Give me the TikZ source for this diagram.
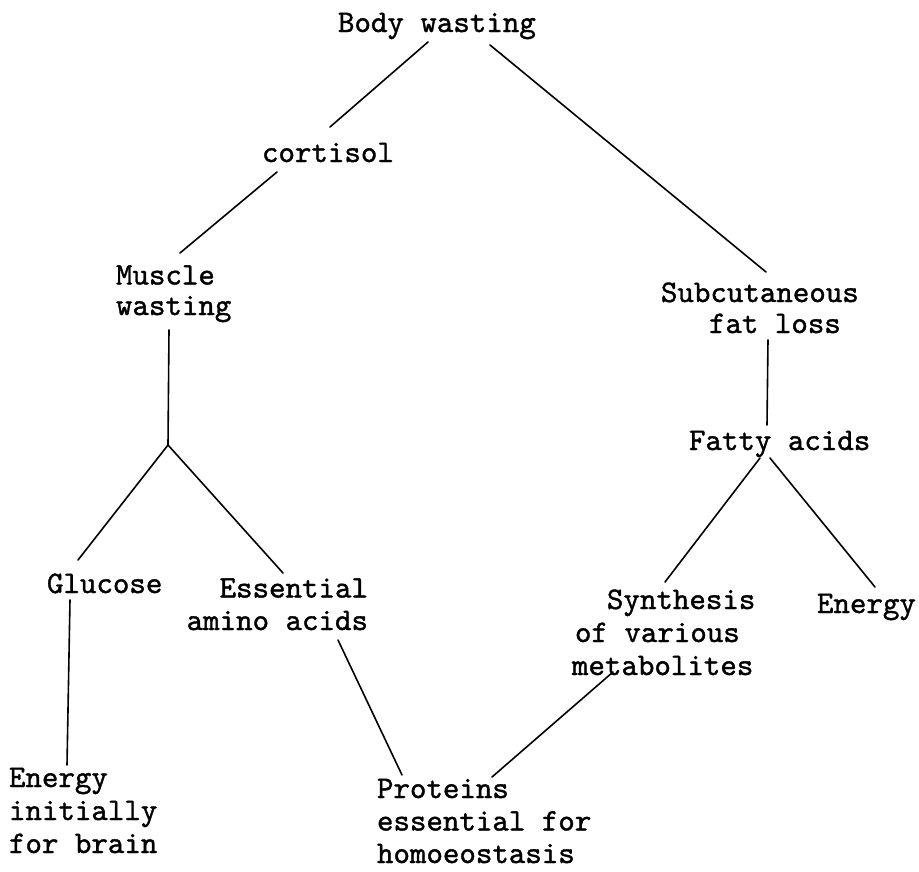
\documentclass[tikz,border=0pt]{standalone}
\usepackage{fontspec}
\newfontfamily\twfont[FakeBold=1.2]{lmmono10-regular.otf}
\newcommand{\lbfont}{\twfont\fontsize{31.4}{32.5}\selectfont}
\tikzset{
  lbl/.style={inner sep=0pt, outer sep=0pt, font=\lbfont, align=left},
  link/.style={line width=1.6pt, black, line cap=round}
}
\begin{document}
\begin{tikzpicture}[x=1pt, y=-1pt]
\fill[white] (0,0) rectangle (919,871);
\useasboundingbox (0,0) rectangle (919,871);

% nodes (anchored at the baseline of their last line)
\node[lbl, anchor=base west] (body) at (338,32) {Body wasting};
\node[lbl, anchor=base west] (cort) at (262,162) {cortisol};
\node[lbl, anchor=base west, font=\twfont\fontsize{31.4}{30.5}\selectfont] (musc) at (116,315) {Muscle\\wasting};
\coordinate (j) at (168,445);
\node[lbl, anchor=base west] (gluc) at (47,593) {Glucose};
\node[lbl, anchor=base east, align=right] (ess) at (368,630) {Essential\\amino acids};
\node[lbl, anchor=base west, font=\twfont\fontsize{31.4}{33}\selectfont] (enl) at (9,853) {Energy\\initially\\for brain};
\node[lbl, anchor=base west] (prot) at (377,863) {Proteins\\essential for\\homoeostasis};
\node[lbl, anchor=base west, font=\twfont\fontsize{31.4}{33}\selectfont] (syn) at (572,675) {\hspace*{35pt}Synthesis\\\hspace*{3pt}of various\\metabolites};
\node[lbl, anchor=base west, font=\twfont\fontsize{31.4}{31}\selectfont] (sub) at (661,333) {Subcutaneous\\\hspace*{48pt}fat loss};
\node[lbl, anchor=base west] (fat) at (689,450) {Fatty acids};
\node[lbl, anchor=base west] (enr) at (817,613) {Energy};

% connectors
\draw[link] ([shift={(90,10)}]body.base west) -- ([shift={(68,-35)}]cort.base west);
\draw[link] ([shift={(152,13)}]body.base west) -- ([shift={(105,-61)}]sub.base west);
\draw[link] ([shift={(15,10)}]cort.base west) -- ([shift={(64,-62)}]musc.base west);
\draw[link] ([shift={(53,15)}]musc.base west) -- (j);
\draw[link] (j) -- ([shift={(31,-33)}]gluc.base west);
\draw[link] (j) -- ([shift={(-85,-57)}]ess.base east);
\draw[link] ([shift={(23,7)}]gluc.base west) -- ([shift={(58,-88)}]enl.base west);
\draw[link] ([shift={(-30,10)}]ess.base east) -- ([shift={(25,-88)}]prot.base west);
\draw[link] ([shift={(41,-3)}]syn.base west) -- ([shift={(115,-86)}]prot.base west);
\draw[link] ([shift={(107,7)}]sub.base west) -- ([shift={(78,-25)}]fat.base west);
\draw[link] ([shift={(71,8)}]fat.base west) -- ([shift={(93,-93)}]syn.base west);
\draw[link] ([shift={(81,8)}]fat.base west) -- ([shift={(58,-26)}]enr.base west);
\end{tikzpicture}
\end{document}
